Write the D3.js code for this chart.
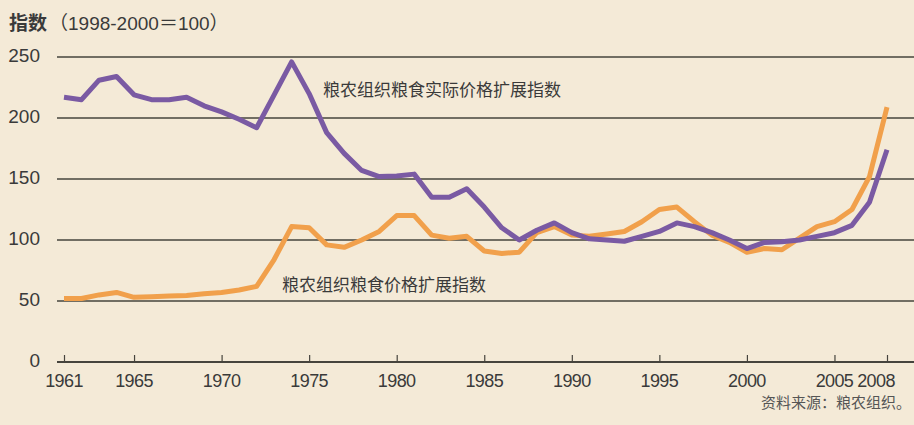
<!DOCTYPE html>
<html>
<head>
<meta charset="utf-8">
<title>粮农组织粮食价格指数</title>
<script src="https://d3js.org/d3.v7.min.js"></script>
<style>
  body { margin: 0; background: #f4ead7; }
  svg { display: block; }
  .grid line { stroke: #46443d; stroke-width: 1.6px; }
  text { font-family: "Liberation Sans", "Noto Sans CJK SC", sans-serif; fill: #3a3a3a; }
  .cjk { font-family: "Noto Sans CJK SC", sans-serif; }
</style>
</head>
<body>
<svg id="chart" width="914" height="425"></svg>
<script>
// years 1961 - 2008
const years = d3.range(1961, 2009);
// FAO real food price index (extended)
const realIndex = [217,215,231,234,219,215,215,217,210,205,
                   199,192,219,246,220,188,171,157,152,152.5,
                   154,135,135,142,127,110,100,108,114,106,
                   101,100,99,103,107,114,111,106,100,93,
                   98,98.5,100,103,106,112,131,174];
// FAO nominal food price index (extended)
const nominalIndex = [52,52,55,57,53,53.5,54,54.5,56,57,
                      59,62,84,111,110,96,94,100,107,120,
                      120,104,101.5,103,91,89,90,106,111,104,
                      103,105,107,115,125,127,115,104,98,90,
                      93,92,101.5,111,115,125,152,209];
const yTicks = [0, 50, 100, 150, 200, 250];
const xTicks = [1961, 1965, 1970, 1975, 1980, 1985, 1990, 1995, 2000, 2005, 2008];

const svg = d3.select("#chart");

let x = d3.scaleLinear().domain([1961, 2008]).range([64, 887]);
let y = d3.scaleLinear().domain([0, 250]).range([362, 57]);

// grid lines
const grid = svg.append("g").attr("class", "grid");
grid.selectAll("line")
  .data(yTicks)
  .enter().append("line")
    .attr("x1", 57)
    .attr("x2", 914)
    .attr("y1", d => y(d))
    .attr("y2", d => y(d))
    .style("stroke-width", d => d === 0 ? 2 : null);

// y labels
svg.append("g").selectAll("text")
  .data(yTicks)
  .enter().append("text")
    .attr("x", 40)
    .attr("y", d => y(d) + 5)
    .attr("text-anchor", "end")
    .attr("font-size", 19)
    .text(d => d);

// x axis ticks (drawn upward from the baseline)
let xAxis = d3.axisTop(x)
  .tickValues(xTicks)
  .tickSize(7)
  .tickFormat("");
let ax = svg.append("g")
  .attr("transform", `translate(0,${y(0)})`)
  .call(xAxis);
ax.select(".domain").remove();
ax.selectAll(".tick line").attr("stroke", "#46443d").attr("stroke-width", 1.2);

// x labels, last one nudged left so it does not touch 2005
svg.append("g").selectAll("text")
  .data(xTicks)
  .enter().append("text")
    .attr("x", d => d === 2008 ? x(d) - 11 : x(d))
    .attr("y", 387)
    .attr("text-anchor", "middle")
    .attr("font-size", 18)
    .attr("letter-spacing", -0.6)
    .text(d => d);

// lines
const line = (vals) => d3.line()
  .x((d, i) => x(years[i]))
  .y(d => y(d))(vals);

svg.append("path")
  .attr("d", line(nominalIndex))
  .attr("fill", "none")
  .attr("stroke", "#f1a04b")
  .attr("stroke-width", 5)
  .attr("stroke-linejoin", "round");

svg.append("path")
  .attr("d", line(realIndex))
  .attr("fill", "none")
  .attr("stroke", "#7a5aa3")
  .attr("stroke-width", 5)
  .attr("stroke-linejoin", "round");

// series labels
svg.append("text")
  .attr("class", "cjk")
  .attr("x", 323)
  .attr("y", 96)
  .attr("font-size", 17)
  .text("粮农组织粮食实际价格扩展指数");

svg.append("text")
  .attr("class", "cjk")
  .attr("x", 282)
  .attr("y", 291)
  .attr("font-size", 17)
  .text("粮农组织粮食价格扩展指数");

// title
let title = svg.append("text")
  .attr("x", 9)
  .attr("y", 30)
  .attr("font-size", 19);
title.append("tspan").attr("font-weight", "bold").attr("class", "cjk").text("指数");
title.append("tspan").attr("dx", 2).text("（1998-2000＝100）");

// source
svg.append("text")
  .attr("class", "cjk")
  .attr("x", 911)
  .attr("y", 408)
  .attr("text-anchor", "end")
  .attr("font-size", 15)
  .style("fill", "#555")
  .text("资料来源：粮农组织。");
</script>
</body>
</html>
